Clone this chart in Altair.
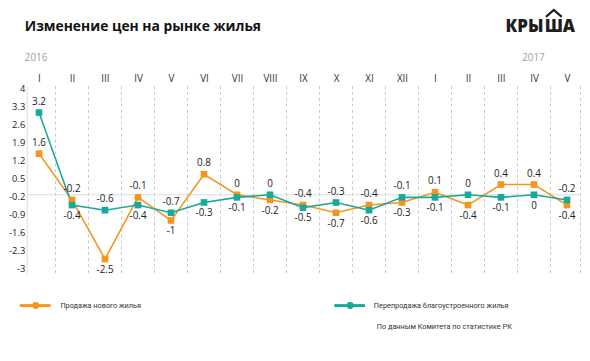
import json
import altair as alt
import pandas as pd

# ---------------- data ----------------
months = ["I", "II", "III", "IV", "V", "VI", "VII", "VIII", "IX", "X", "XI", "XII",
          "I", "II", "III", "IV", "V"]
years = ["2016", "2017"]
series_names = ["Продажа нового жилья", "Перепродажа благоустроенного жилья"]
new_sales = [1.6, -0.2, -2.5, -0.1, -1, 0.8, 0, -0.2, -0.4, -0.7, -0.4, -0.3,
             0.1, -0.4, 0.4, 0.4, -0.4]
resales = [3.2, -0.4, -0.6, -0.4, -0.7, -0.3, -0.1, 0, -0.5, -0.3, -0.6, -0.1,
           -0.1, 0, -0.1, 0, -0.2]
# where each value label sits relative to its point (as in the reference)
new_sales_label_pos = ["above", "above", "below", "above", "below", "above", "above", "below",
                       "above", "below", "above", "below", "above", "below", "above", "above",
                       "below"]
resales_label_pos = ["above", "below", "above", "below", "above", "below", "below", "above",
                     "below", "above", "below", "above", "below", "above", "below", "below",
                     "above"]
y_tick_labels = ["4", "3.3", "2.6", "1.9", "1.2", "0.5", "-0.2", "-0.9", "-1.6", "-2.3", "-3"]
title_text = "Изменение цен на рынке жилья"
source_text = "По данным Комитета по статистике РК"

# ---------------- styling ----------------
ORANGE = "#F7941D"
TEAL = "#19A99A"
FONT = "Open Sans"
W, H = 560, 190
X_DOM = [-0.37, 16.41]
Y_DOM = [-3.08, 4.23]
TICK_SHIFT = 0.13  # the reference's tick labels sit slightly above their value

rows = []
for i in range(len(months)):
    rows.append({"idx": i, "series": series_names[0], "value": new_sales[i],
                 "label": f"{new_sales[i]:g}", "pos": new_sales_label_pos[i]})
    rows.append({"idx": i, "series": series_names[1], "value": resales[i],
                 "label": f"{resales[i]:g}", "pos": resales_label_pos[i]})
df = pd.DataFrame(rows)

color = alt.Color("series:N", scale=alt.Scale(domain=series_names, range=[ORANGE, TEAL]),
                  legend=None)
xscale = alt.Scale(domain=X_DOM, nice=False, zero=False)
yscale = alt.Scale(domain=Y_DOM, nice=False, zero=False)

label_expr = json.dumps(months) + "[datum.value]"
x_axis = alt.Axis(orient="top", values=list(range(len(months))),
                  labelExpr=label_expr, grid=False, domain=False, ticks=False,
                  labelPadding=3, labelFontSize=10, labelColor="#333",
                  labelFont=FONT, title=None)
y_axis = alt.Axis(values=[float(v) + TICK_SHIFT for v in y_tick_labels],
                  labelExpr=f"replace(format(datum.value - {TICK_SHIFT}, '.1~f'), '\u2212', '-')",
                  grid=False, domainColor="#dddddd", ticks=False,
                  labelPadding=2, labelFontSize=9.5, labelColor="#222",
                  labelFont=FONT, title=None)
X = alt.X("idx:Q", scale=xscale, axis=x_axis)
Y = alt.Y("value:Q", scale=yscale, axis=y_axis)

# vertical dashed separators between months
bounds = pd.DataFrame({"idx": [i + 0.5 for i in range(len(months) - 1)] + [X_DOM[1]]})
vgrid = alt.Chart(bounds).mark_rule(color="#c8c8c8", strokeDash=[3, 3], strokeWidth=1).encode(
    x=X, y=alt.value(0), y2=alt.value(H))

zero = alt.Chart(pd.DataFrame({"value": [0]})).mark_rule(color="#dddddd", strokeWidth=1).encode(
    y=Y)

lines = alt.Chart(df).mark_line(strokeWidth=1.6).encode(x=X, y=Y, color=color)
points = alt.Chart(df).mark_point(shape="square", filled=True, size=45, opacity=1).encode(
    x=X, y=Y, color=color)

lab_above = alt.Chart(df).transform_filter("datum.pos == 'above'").mark_text(
    font=FONT, fontSize=10, color="#222", dy=-11).encode(x=X, y=Y, text="label:N")
lab_below = alt.Chart(df).transform_filter("datum.pos == 'below'").mark_text(
    font=FONT, fontSize=10, color="#222", dy=11).encode(x=X, y=Y, text="label:N")


def txt(s, x, y, **kw):
    return alt.Chart(pd.DataFrame({"t": [s]})).mark_text(**kw).encode(
        text="t:N", x=alt.value(x), y=alt.value(y))


title = txt(title_text, -2, -56, font=FONT, fontSize=14, fontWeight="bold", color="#111",
            align="left", baseline="alphabetic")
y2016 = txt(years[0], -2, -25.5, font=FONT, fontSize=10, color="#a0a0a0", align="left",
            baseline="alphabetic")
y2017 = txt(years[1], 501, -25.5, font=FONT, fontSize=10, color="#a0a0a0", align="left",
            baseline="alphabetic")

LOGO_FONT = "Open Sans"
logo1 = txt("КРЫ", 522.5, -55, font=LOGO_FONT, fontSize=17, fontWeight=800, color="#1e1e1e",
            align="right", baseline="alphabetic")
logo2 = txt("Ш", 533, -55, font=LOGO_FONT, fontSize=17, fontWeight=800, color="#1e1e1e",
            align="center", baseline="alphabetic")
logo3 = txt("А", 542, -55, font=LOGO_FONT, fontSize=17, fontWeight=800, color="#1e1e1e",
            align="left", baseline="alphabetic")
roof = alt.Chart(pd.DataFrame({"r": [0]})).mark_point(
    shape="M-1,0.44L0,-0.44L1,0.44", filled=False, size=256, strokeWidth=2.2,
    color="#1e1e1e", opacity=1).encode(x=alt.value(533), y=alt.value(-73.5))

SMALL_FONT = "Roboto"
SMALL_SIZE = 7.4
legend_layers = []
for name, col, x0, x1, cx, tx in [(series_names[0], ORANGE, -7, 24, 9, 34),
                                  (series_names[1], TEAL, 311, 342, 327, 351)]:
    legend_layers.append(alt.Chart(pd.DataFrame({"s": [name]})).mark_rule(
        color=col, strokeWidth=3).encode(x=alt.value(x0), x2=alt.value(x1), y=alt.value(222)))
    legend_layers.append(alt.Chart(pd.DataFrame({"s": [name]})).mark_point(
        shape="circle", filled=True, size=50, color=col, opacity=1).encode(
        x=alt.value(cx), y=alt.value(222)))
    legend_layers.append(txt(name, tx, 222, font=SMALL_FONT, fontSize=SMALL_SIZE, color="#333",
                             align="left", baseline="middle"))

source = txt(source_text, 354, 244, font=SMALL_FONT, fontSize=SMALL_SIZE, color="#333",
             align="left", baseline="middle")

chart = alt.layer(vgrid, zero, lines, points, lab_above, lab_below, title, y2016, y2017,
                  logo1, logo2, logo3, roof, *legend_layers, source).properties(
    width=W, height=H,
    autosize=alt.AutoSizeParams(type="none"),
    padding={"left": 19, "top": 77, "right": 1.5, "bottom": 78},
    background="white",
).configure_view(stroke=None)

chart.save("out.html", embed_options={"renderer": "svg", "actions": False})
